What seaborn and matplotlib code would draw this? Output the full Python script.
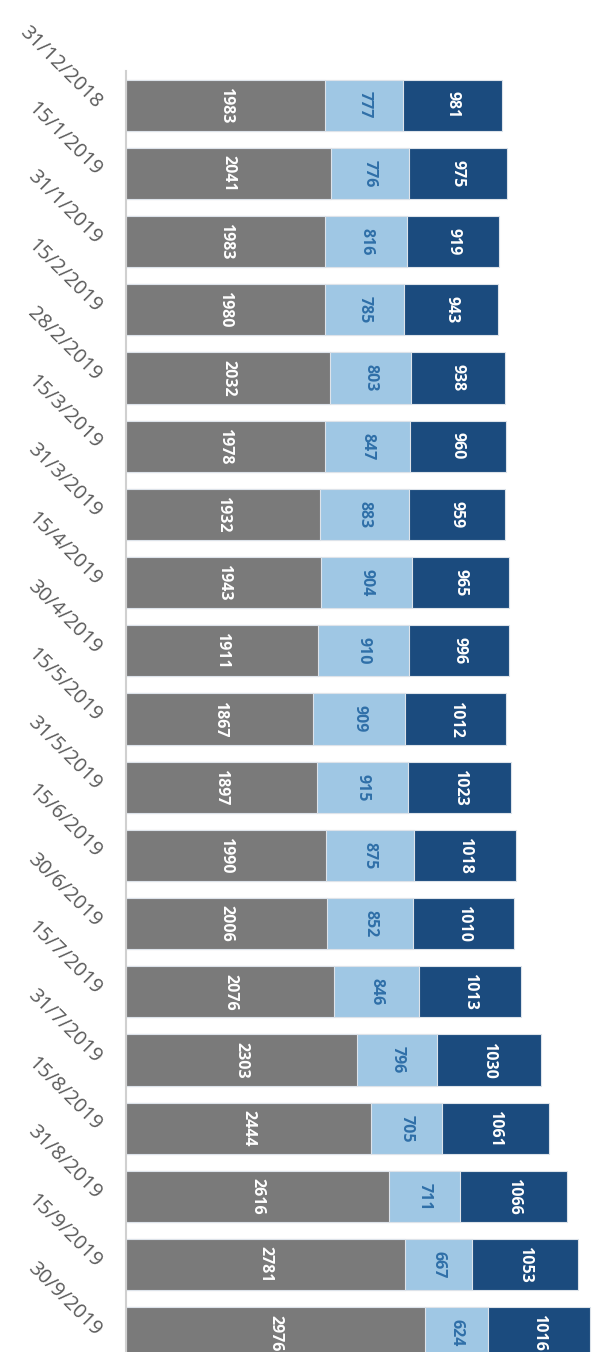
import numpy as np
import pandas as pd
import matplotlib
matplotlib.use('Agg')
import matplotlib.pyplot as plt
import seaborn as sns

# data
dates = ['31/12/2018', '15/1/2019', '31/1/2019', '15/2/2019', '28/2/2019',
         '15/3/2019', '31/3/2019', '15/4/2019', '30/4/2019', '15/5/2019',
         '31/5/2019', '15/6/2019', '30/6/2019', '15/7/2019', '31/7/2019',
         '15/8/2019', '31/8/2019', '15/9/2019', '30/9/2019']
grey_vals = [1983, 2041, 1983, 1980, 2032, 1978, 1932, 1943, 1911, 1867,
             1897, 1990, 2006, 2076, 2303, 2444, 2616, 2781, 2976]
light_vals = [777, 776, 816, 785, 803, 847, 883, 904, 910, 909,
              915, 875, 852, 846, 796, 705, 711, 667, 624]
dark_vals = [981, 975, 919, 943, 938, 960, 959, 965, 996, 1012,
             1023, 1018, 1010, 1013, 1030, 1061, 1066, 1053, 1016]

grey_col = '#7a7a7a'
light_col = '#9fc7e4'
dark_col = '#1b4b7e'

sns.set_style('white')
plt.rcParams['font.family'] = ['Open Sans', 'DejaVu Sans']

df = pd.DataFrame({'date': dates, 'grey': grey_vals,
                   'light': light_vals, 'dark': dark_vals})
df['gl'] = df['grey'] + df['light']
df['total'] = df['gl'] + df['dark']

fig = plt.figure(figsize=(6, 13.52), dpi=100)
# axes runs past the bottom/right edge like the cropped original
ax = fig.add_axes([126 / 600, (1352 - 1367) / 1352, 474 / 600, 1296 / 1352])

edge = '#dde3ea'
sns.barplot(data=df, y='date', x='total', color=dark_col, orient='y',
            width=0.75, ax=ax, edgecolor=edge, linewidth=0.8, saturation=1)
sns.barplot(data=df, y='date', x='gl', color=light_col, orient='y',
            width=0.75, ax=ax, edgecolor=edge, linewidth=0.8, saturation=1)
sns.barplot(data=df, y='date', x='grey', color=grey_col, orient='y',
            width=0.75, ax=ax, edgecolor=edge, linewidth=0.8, saturation=1)

ax.set_xlim(0, 4720)
ax.set_ylim(len(dates) - 0.5, -0.5)

# value labels, rotated like the original
for i, r in df.iterrows():
    ax.text(r['grey'] / 2, i, str(r['grey']), rotation=270, ha='center',
            va='center', color='white', fontsize=11.5, fontweight='bold')
    ax.text(r['grey'] + r['light'] / 2, i, str(r['light']), rotation=270,
            ha='center', va='center', color='#2f6fa8', fontsize=11.5,
            fontweight='bold')
    ax.text(r['gl'] + r['dark'] / 2, i, str(r['dark']), rotation=270,
            ha='center', va='center', color='white', fontsize=11.5,
            fontweight='bold')

ax.set_xlabel('')
ax.set_ylabel('')
ax.set_xticks([])
for s in ['top', 'right', 'bottom']:
    ax.spines[s].set_visible(False)
ax.spines['left'].set_color('#d0d0d0')
ax.spines['left'].set_linewidth(1.5)

# ticks between categories, labels centred
ax.set_yticks(np.arange(len(dates)))
ax.set_yticklabels(dates)
ax.set_yticks(np.arange(len(dates) + 1) - 0.5, minor=True)
ax.tick_params(axis='y', which='major', length=0, pad=20)
ax.tick_params(axis='y', which='minor', length=6, width=1.2,
               color='#d0d0d0', direction='out')
for lab in ax.get_yticklabels():
    lab.set_rotation(-45)
    lab.set_rotation_mode('anchor')
    lab.set_ha('right')
    lab.set_va('center')
    lab.set_fontsize(14.5)
    lab.set_color('#595959')

fig.savefig('out.png', dpi=100)
